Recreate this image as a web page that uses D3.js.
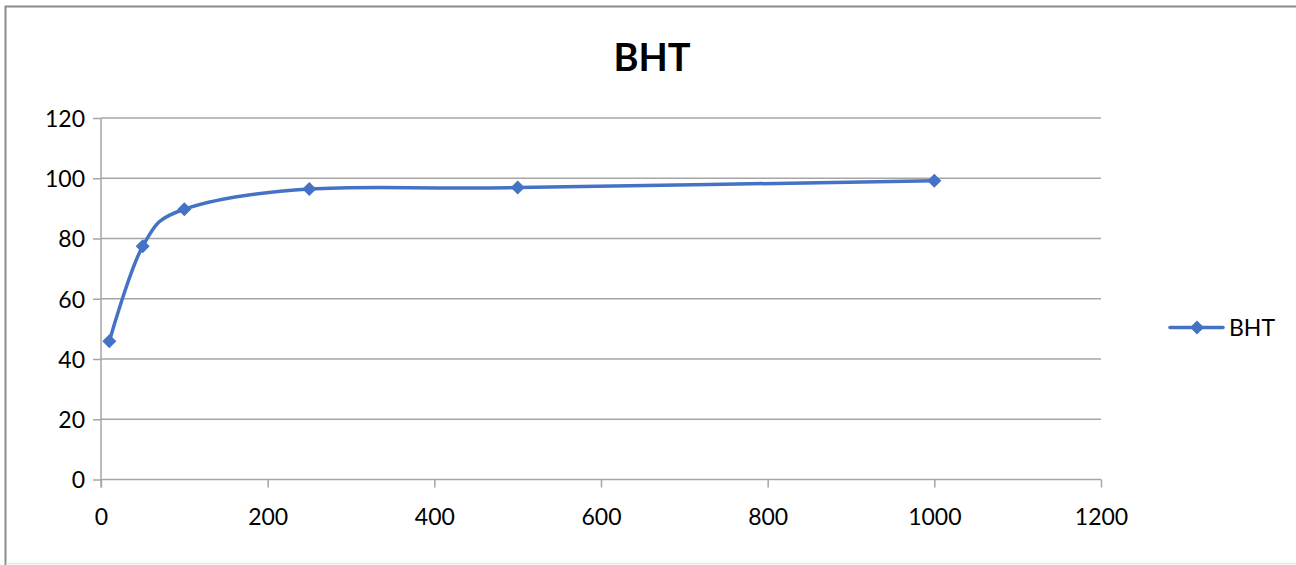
<!DOCTYPE html>
<html>
<head>
<meta charset="utf-8">
<script src="https://cdn.jsdelivr.net/npm/d3@7"></script>
<style>
  body { margin: 0; background: #fff; overflow: hidden; }
  svg { display: block; }
  svg text { font-family: Lato, "Open Sans", sans-serif; fill: #000; }
</style>
</head>
<body>
<div id="chart"></div>
<script>
// data
const seriesName = "BHT";
const xValues = [10, 50, 100, 250, 500, 1000];
const yValues = [45.9, 77.4, 89.7, 96.4, 96.9, 99.2];
const xTicks = [0, 200, 400, 600, 800, 1000, 1200];
const yTicks = [0, 20, 40, 60, 80, 100, 120];

const W = 1296, H = 565;
const margin = {left: 101, right: 195, top: 118, bottom: 85.5};
const width = W - margin.left - margin.right;
const height = H - margin.top - margin.bottom;
const blue = "#4472C4";
const grey = "#A6A6A6";

const svg = d3.select("#chart")
    .append("svg")
    .attr("width", W)
    .attr("height", H);

// chart area border: top + left are visible, bottom is faint, right is cut off
svg.append("path")
    .attr("d", `M5.5,${H}V6.5H${W}`)
    .attr("fill", "none")
    .attr("stroke", "#8C8C8C")
    .attr("stroke-width", 2);
svg.append("line")
    .attr("x1", 6).attr("x2", W)
    .attr("y1", 563.5).attr("y2", 563.5)
    .attr("stroke", "#E6E6E6")
    .attr("stroke-width", 1.5);

svg.append("text")
    .attr("x", 652)
    .attr("y", 71)
    .attr("text-anchor", "middle")
    .style("font-size", "38px")
    .style("font-weight", "bold")
    .text(seriesName);

const g = svg.append("g")
    .attr("transform", `translate(${margin.left},${margin.top})`);

const xScale = d3.scaleLinear().domain([0, 1200]).range([0, width]);
const yScale = d3.scaleLinear().domain([0, 120]).range([height, 0]);

//horizontal gridlines + y axis ticks
const yAxis = g.append("g")
    .call(d3.axisLeft(yScale).tickValues(yTicks).tickSize(8).tickPadding(8).tickFormat(d3.format("d")));
yAxis.select(".domain").remove();
yAxis.selectAll("line").attr("stroke", grey).attr("stroke-width", 1.5);
yAxis.selectAll("text").style("font-size", "23px").attr("dy", "0.36em");

g.append("g")
    .selectAll("line")
    .data(yTicks)
    .join("line")
    .attr("x1", 0)
    .attr("x2", width)
    .attr("y1", d => yScale(d))
    .attr("y2", d => yScale(d))
    .attr("stroke", grey)
    .attr("stroke-width", 1.5);

// x axis
const xAxis = g.append("g")
    .attr("transform", `translate(0,${height})`)
    .call(d3.axisBottom(xScale).tickValues(xTicks).tickSize(8).tickPadding(21).tickFormat(d3.format("d")));
xAxis.select(".domain").remove();
xAxis.selectAll("line").attr("stroke", grey).attr("stroke-width", 1.5);
xAxis.selectAll("text").style("font-size", "23px");

// vertical axis line
g.append("line")
    .attr("x1", 0).attr("x2", 0)
    .attr("y1", 0).attr("y2", height + 8)
    .attr("stroke", grey)
    .attr("stroke-width", 1.5);

const data = xValues.map((x, i) => ({x: x, y: yValues[i]}));

const line = d3.line()
    .x(d => xScale(d.x))
    .y(d => yScale(d.y))
    .curve(d3.curveCardinal.tension(0));

g.append("path")
    .datum(data)
    .attr("fill", "none")
    .attr("stroke", blue)
    .attr("stroke-width", 3.5)
    .attr("stroke-linecap", "round")
    .attr("d", line);

const diamond = d3.symbol().type(d3.symbolSquare).size(98);

g.selectAll(".marker")
    .data(data)
    .join("path")
    .attr("class", "marker")
    .attr("d", diamond)
    .attr("transform", d => `translate(${xScale(d.x)},${yScale(d.y)}) rotate(45)`)
    .attr("fill", blue);

// legend
const legend = svg.append("g").attr("transform", "translate(1170,327.5)");
legend.append("line")
    .attr("x1", 0).attr("x2", 53)
    .attr("stroke", blue)
    .attr("stroke-width", 3.5)
    .attr("stroke-linecap", "round");
legend.append("path")
    .attr("d", diamond)
    .attr("transform", "translate(27,0) rotate(45)")
    .attr("fill", blue);
legend.append("text")
    .attr("x", 59)
    .attr("dy", "0.36em")
    .style("font-size", "23px")
    .text(seriesName);
</script>
</body>
</html>
